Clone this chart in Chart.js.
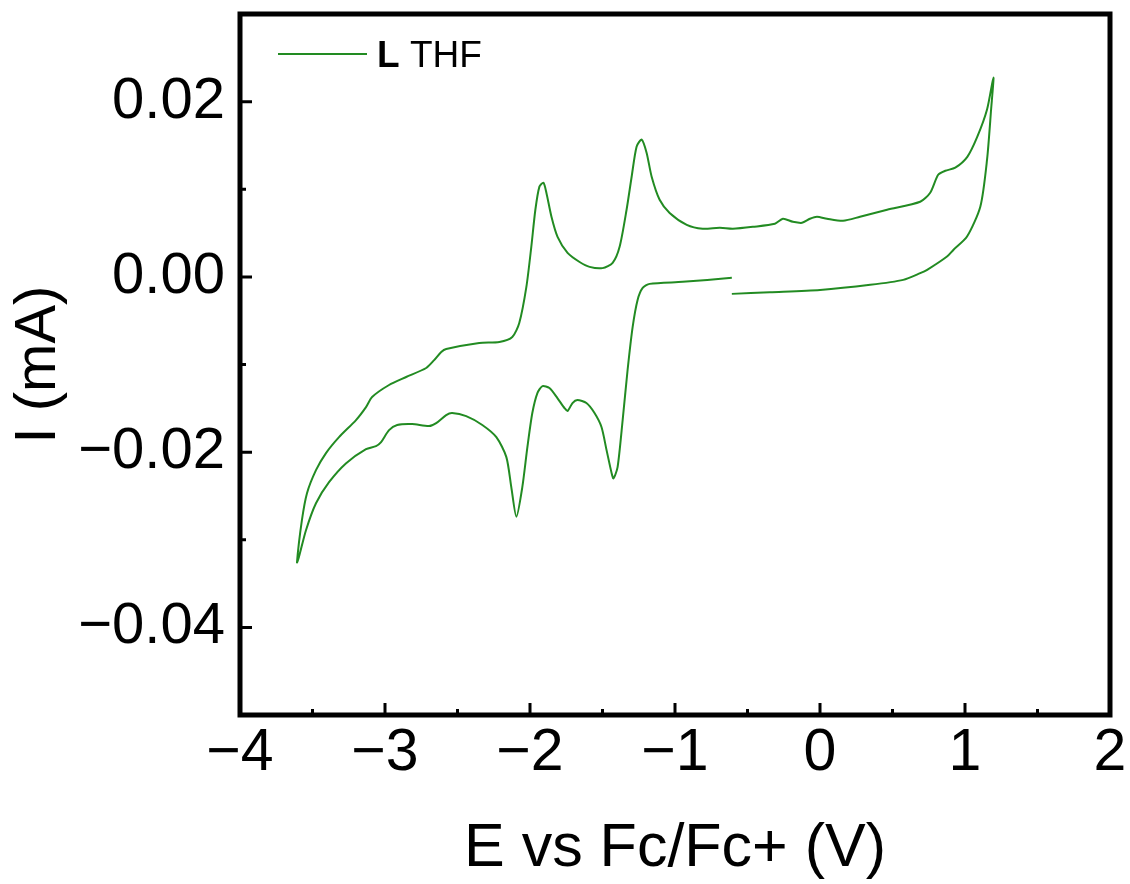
<!DOCTYPE html>
<html>
<head>
<meta charset="utf-8">
<script src="https://cdn.jsdelivr.net/npm/chart.js@4.4.1/dist/chart.umd.min.js"></script>
<style>
    html, body { margin: 0; padding: 0; background: #fff; }
    #wrap { width: 1130px; height: 884px; }
</style>
</head>
<body>
<div id="wrap"><canvas id="cvChart" width="1130" height="884"></canvas></div>
<script>
// potential (V vs Fc/Fc+) and current (mA), in scan order
const potential = [
    -0.608, -0.346, 0, 0.346, 0.574, 0.691, 0.739, 0.876, 0.921, 1.014, 1.106, 1.152, 1.180, 1.196,
    1.152, 1.085, 1.016, 0.933, 0.864, 0.815, 0.760, 0.691, 0.463, 0.276, 0.159, 0.048, -0.021, -0.069,
    -0.124, -0.187, -0.256, -0.311, -0.463, -0.601, -0.691, -0.809, -0.919, -1.037, -1.106, -1.161, -1.196,
    -1.230, -1.265, -1.299, -1.334, -1.382, -1.430, -1.500, -1.589, -1.658, -1.741, -1.810, -1.852, -1.887,
    -1.907, -1.935, -1.963, -1.991, -2.025, -2.074, -2.122, -2.211, -2.350, -2.578, -2.612, -2.661, -2.716,
    -2.854, -2.972, -3.089, -3.131, -3.200, -3.317, -3.407, -3.476, -3.538, -3.573, -3.607,
    -3.594, -3.545, -3.476, -3.386, -3.268, -3.131, -3.062, -3.027, -2.972, -2.916, -2.813, -2.696, -2.647,
    -2.578, -2.537, -2.440, -2.329, -2.232, -2.163, -2.129, -2.094, -2.053, -2.018, -1.984, -1.949, -1.914,
    -1.866, -1.811, -1.762, -1.741, -1.707, -1.673, -1.611, -1.555, -1.507, -1.472, -1.437, -1.424, -1.396,
    -1.361, -1.327, -1.292, -1.258, -1.223, -1.175, -0.947, -0.608
];
const current = [
    -0.00194, -0.00175, -0.00149, -0.00091, -0.00034, 0.00042, 0.0008, 0.00232, 0.0031, 0.0046, 0.00804, 0.01337, 0.0191, 0.02274,
    0.0191, 0.0160, 0.0137, 0.01246, 0.01211, 0.01166, 0.0096, 0.00857, 0.00766, 0.00686, 0.0064, 0.00663, 0.00686, 0.00663,
    0.00617, 0.00629, 0.00663, 0.00606, 0.00571, 0.00549, 0.0056, 0.00549, 0.00594, 0.0073, 0.0088, 0.01143, 0.01417,
    0.01566, 0.01486, 0.01143, 0.00766, 0.00343, 0.0016, 0.0010, 0.00114, 0.0017, 0.00274, 0.00457, 0.00686, 0.0096,
    0.01074, 0.0103, 0.00766, 0.00343, -0.00114, -0.00526, -0.00686, -0.00743, -0.00754, -0.00823, -0.00857, -0.0095, -0.0104,
    -0.01143, -0.01234, -0.01371, -0.01486, -0.01634, -0.01829, -0.02011, -0.02206, -0.02469, -0.02777, -0.03257,
    -0.0320, -0.02891, -0.02583, -0.02343, -0.02126, -0.01966, -0.01931, -0.01886, -0.01749, -0.01691, -0.0168, -0.01703, -0.01669,
    -0.01577, -0.01554, -0.01589, -0.0169, -0.01829, -0.02057, -0.0240, -0.02737, -0.0240, -0.01943, -0.01554, -0.01326, -0.01246,
    -0.01269, -0.01383, -0.01497, -0.01531, -0.0144, -0.01406, -0.0144, -0.01554, -0.01714, -0.01977, -0.0224, -0.0230, -0.02171,
    -0.01634, -0.01063, -0.00571, -0.00263, -0.00126, -0.0008, -0.00057, -0.00011
];

const xMajorTicks = [-4, -3, -2, -1, 0, 1, 2];
const xMinorTicks = [-3.5, -2.5, -1.5, -0.5, 0.5, 1.5];
const yMajorTicks = [-0.04, -0.02, 0, 0.02];
const yMinorTicks = [-0.03, -0.01, 0.01];

const lineColor = '#228B22';
const fontFamily = "'Liberation Sans', Arial, Helvetica, sans-serif";

function minusLabel(v, digits) {
    const r = Math.round(v * 1000) / 1000;
    return (r < 0 ? '\u2212' : '') + Math.abs(r).toFixed(digits);
}

// box frame, inward ticks and the legend
const frameAndTicks = {
    id: 'frameAndTicks',
    afterDatasetsDraw(chart) {
        const { ctx, chartArea: a, scales: { x, y } } = chart;
        ctx.save();
        ctx.strokeStyle = '#000';
        ctx.lineWidth = 3;
        ctx.beginPath();
        xMajorTicks.forEach(v => { const px = x.getPixelForValue(v); ctx.moveTo(px, a.bottom); ctx.lineTo(px, a.bottom - 12); });
        xMinorTicks.forEach(v => { const px = x.getPixelForValue(v); ctx.moveTo(px, a.bottom); ctx.lineTo(px, a.bottom - 6); });
        yMajorTicks.forEach(v => { const py = y.getPixelForValue(v); ctx.moveTo(a.left, py); ctx.lineTo(a.left + 12, py); });
        yMinorTicks.forEach(v => { const py = y.getPixelForValue(v); ctx.moveTo(a.left, py); ctx.lineTo(a.left + 6, py); });
        ctx.stroke();

        ctx.lineWidth = 5;
        ctx.strokeRect(a.left, a.top, a.right - a.left, a.bottom - a.top);

        // legend
        ctx.strokeStyle = lineColor;
        ctx.lineWidth = 2;
        ctx.beginPath();
        ctx.moveTo(a.left + 38, a.top + 40);
        ctx.lineTo(a.left + 127, a.top + 40);
        ctx.stroke();
        ctx.fillStyle = '#000';
        ctx.textBaseline = 'alphabetic';
        ctx.textAlign = 'left';
        ctx.font = 'bold 37px ' + fontFamily;
        const lx = a.left + 137;
        ctx.fillText('L', lx, a.top + 53);
        const w = ctx.measureText('L').width;
        ctx.font = '37px ' + fontFamily;
        ctx.fillText(' THF', lx + w, a.top + 53);
        ctx.restore();
    }
};

new Chart(document.getElementById('cvChart').getContext('2d'), {
    type: 'scatter',
    data: {
        datasets: [{
            label: 'L THF',
            data: potential.map((e, i) => ({ x: e, y: current[i] })),
            showLine: true,
            borderColor: lineColor,
            borderWidth: 2,
            pointRadius: 0,
            tension: 0.25,
            fill: false
        }]
    },
    options: {
        responsive: false,
        animation: false,
        devicePixelRatio: 1,
        layout: { padding: { top: 14, right: 20, left: 0, bottom: 0 } },
        plugins: { legend: { display: false }, tooltip: { enabled: false } },
        scales: {
            x: {
                type: 'linear',
                min: -4,
                max: 2,
                afterBuildTicks: s => { s.ticks = xMajorTicks.map(v => ({ value: v })); },
                afterFit: s => { s.height = 169; s.paddingLeft = 0; s.paddingRight = 0; },
                grid: { display: false, drawTicks: false },
                border: { display: false },
                ticks: {
                    autoSkip: false,
                    maxRotation: 0,
                    padding: 3,
                    color: '#000',
                    font: { family: fontFamily, size: 59 },
                    callback: v => minusLabel(v, 0)
                },
                title: {
                    display: true,
                    text: 'E vs Fc/Fc+ (V)',
                    color: '#000',
                    font: { family: fontFamily, size: 61, lineHeight: 1 },
                    padding: { top: 0, bottom: 4 }
                }
            },
            y: {
                type: 'linear',
                min: -0.05,
                max: 0.03,
                afterBuildTicks: s => { s.ticks = yMajorTicks.map(v => ({ value: v })); },
                afterFit: s => { s.width = 240; s.paddingTop = 0; s.paddingBottom = 0; },
                grid: { display: false, drawTicks: false },
                border: { display: false },
                ticks: {
                    padding: 15,
                    color: '#000',
                    font: { family: fontFamily, size: 58 },
                    callback: v => minusLabel(v, 2)
                },
                title: {
                    display: true,
                    text: 'I (mA)',
                    color: '#000',
                    font: { family: fontFamily, size: 58, lineHeight: 1 },
                    padding: { top: 10, bottom: 0 }
                }
            }
        }
    },
    plugins: [frameAndTicks]
});
</script>
</body>
</html>
